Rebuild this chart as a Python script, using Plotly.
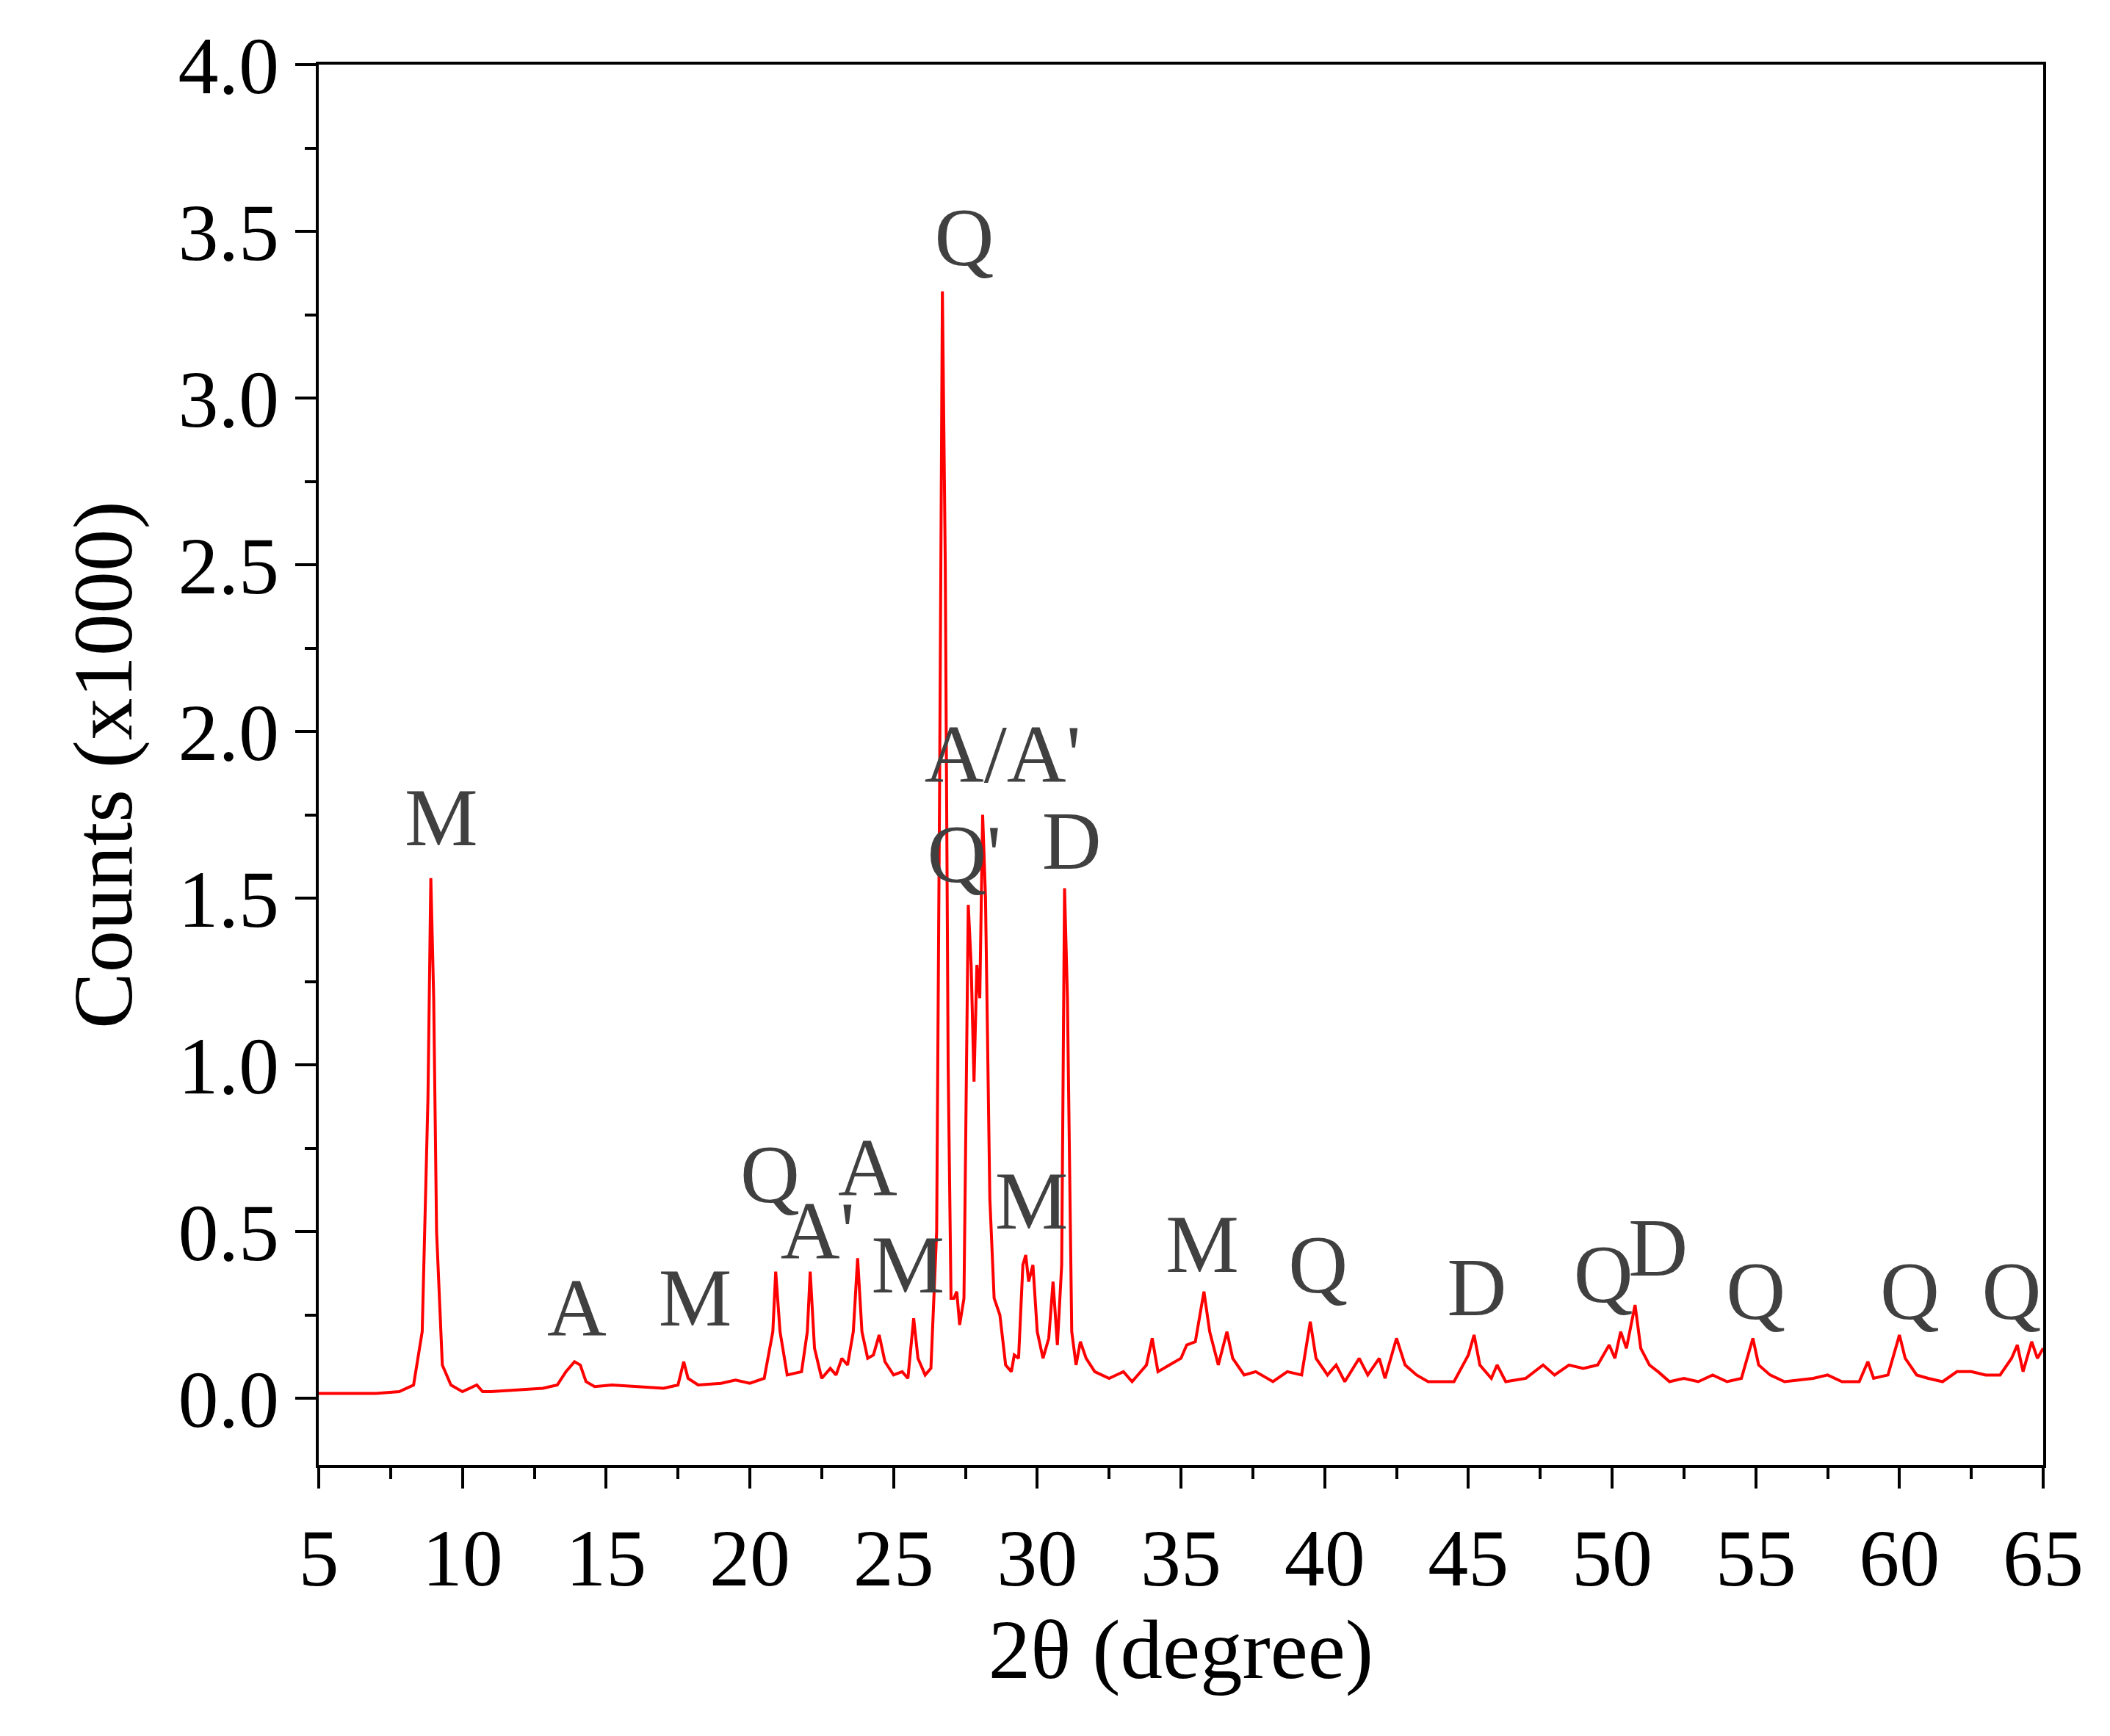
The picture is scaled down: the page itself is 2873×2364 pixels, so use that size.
import plotly.graph_objects as go

two_theta = [5,6,7,7.8,8.3,8.6,8.8,8.9,9.0,9.1,9.3,9.6,10,10.5,10.7,11,12,12.8,13.3,13.6,13.9,14.1,14.3,14.6,15.2,16,17,17.5,17.7,17.85,18.2,19,19.5,20,20.5,20.8,20.9,21.05,21.3,21.8,22,22.1,22.25,22.5,22.8,23.0,23.2,23.4,23.6,23.75,23.9,24.1,24.3,24.5,24.7,25.0,25.3,25.5,25.7,25.85,26.1,26.3,26.5,26.6,26.7,26.8,26.9,27.0,27.1,27.2,27.3,27.45,27.6,27.7,27.8,27.9,28.0,28.1,28.2,28.35,28.5,28.7,28.9,29.1,29.2,29.35,29.5,29.6,29.7,29.85,30.0,30.2,30.4,30.55,30.7,30.85,30.95,31.05,31.2,31.35,31.5,31.7,32,32.5,33,33.3,33.8,34.0,34.2,34.6,35.0,35.2,35.5,35.8,36.0,36.3,36.6,36.8,37.2,37.6,38.2,38.7,39.2,39.5,39.7,40.1,40.4,40.7,41.2,41.5,41.9,42.1,42.5,42.8,43.2,43.6,44.5,45.0,45.2,45.4,45.8,46.0,46.3,47,47.6,48,48.5,49.0,49.5,49.9,50.1,50.3,50.5,50.8,51.0,51.3,51.6,52,52.5,53,53.5,54,54.5,54.9,55.1,55.5,56,57,57.5,58,58.6,58.9,59.1,59.6,60.0,60.2,60.6,61,61.5,62,62.5,63,63.5,63.9,64.1,64.3,64.6,64.8,65]
counts = [0.015,0.015,0.015,0.02,0.04,0.2,0.9,1.56,1.2,0.5,0.1,0.04,0.02,0.04,0.02,0.02,0.025,0.03,0.04,0.08,0.11,0.1,0.05,0.035,0.04,0.035,0.03,0.04,0.11,0.06,0.04,0.045,0.055,0.045,0.06,0.2,0.38,0.2,0.07,0.08,0.2,0.38,0.15,0.06,0.09,0.07,0.12,0.1,0.2,0.42,0.2,0.12,0.13,0.19,0.11,0.07,0.08,0.06,0.24,0.12,0.07,0.09,0.5,1.8,3.32,2.5,1.0,0.3,0.3,0.32,0.22,0.3,1.48,1.3,0.95,1.3,1.2,1.75,1.5,0.6,0.3,0.25,0.1,0.08,0.13,0.12,0.4,0.43,0.35,0.4,0.2,0.12,0.18,0.35,0.16,0.4,1.53,1.2,0.2,0.1,0.17,0.12,0.08,0.06,0.08,0.05,0.1,0.18,0.08,0.1,0.12,0.16,0.17,0.32,0.2,0.1,0.2,0.12,0.07,0.08,0.05,0.08,0.07,0.23,0.12,0.07,0.1,0.05,0.12,0.07,0.12,0.06,0.18,0.1,0.07,0.05,0.05,0.13,0.19,0.1,0.06,0.1,0.05,0.06,0.1,0.07,0.1,0.09,0.1,0.16,0.12,0.2,0.15,0.28,0.15,0.1,0.08,0.05,0.06,0.05,0.07,0.05,0.06,0.18,0.1,0.07,0.05,0.06,0.07,0.05,0.05,0.11,0.06,0.07,0.19,0.12,0.07,0.06,0.05,0.08,0.08,0.07,0.07,0.12,0.16,0.08,0.17,0.12,0.15]

label_text = ["M","A","M","Q","A'","A","M","Q","A/A'","Q'","D","M","M","Q","D","Q","D","Q","Q","Q"]
label_x = [9.26,13.98,18.1,20.7,22.36,24.1,25.5,27.46,28.8,27.46,31.2,29.8,35.74,39.77,45.3,49.7,51.6,55.0,60.36,63.9]
label_y = [1.72,0.25,0.28,0.65,0.48,0.67,0.38,3.46,1.91,1.61,1.65,0.57,0.44,0.38,0.31,0.35,0.43,0.30,0.30,0.30]

font = "Liberation Serif"
fig = go.Figure()
fig.add_trace(go.Scatter(x=two_theta, y=counts, mode="lines",
                         line=dict(color="#ff0000", width=4), showlegend=False))
fig.add_trace(go.Scatter(x=label_x, y=label_y, mode="text", text=label_text,
                         textfont=dict(family=font, size=112, color="#404040"),
                         showlegend=False, cliponaxis=False))
axis_common = dict(showline=True, linecolor="black", linewidth=4, mirror=True,
                   ticks="outside", ticklen=28, tickwidth=4, tickcolor="black",
                   showgrid=False, zeroline=False,
                   tickfont=dict(family=font, size=110, color="black"))
fig.update_xaxes(range=[5, 65], dtick=5, tick0=5,
                 minor=dict(ticks="outside", ticklen=15, tickwidth=4, dtick=2.5, tickcolor="black"),
                 title=dict(text="2θ (degree)", font=dict(family=font, size=115, color="black"), standoff=15),
                 **axis_common)
fig.update_yaxes(range=[-0.2, 4.0], dtick=0.5, tick0=0, tickformat=".1f",
                 minor=dict(ticks="outside", ticklen=15, tickwidth=4, dtick=0.25, tickcolor="black"),
                 title=dict(text="Counts (x1000)", font=dict(family=font, size=115, color="black"), standoff=25),
                 **axis_common)
fig.update_layout(width=2873, height=2364, plot_bgcolor="white", paper_bgcolor="white",
                  margin=dict(l=426, r=99, t=80, b=377))
fig.write_html("out.html")
